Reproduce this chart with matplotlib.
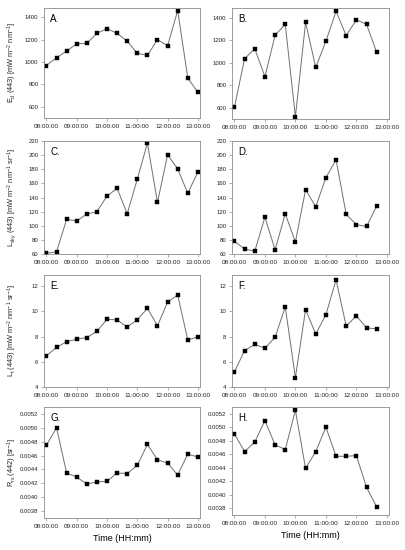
import matplotlib
matplotlib.use("Agg")
import matplotlib.pyplot as plt
from matplotlib.ticker import MultipleLocator

plt.rcParams['font.family'] = ['Liberation Sans', 'DejaVu Sans']
plt.rcParams['mathtext.fontset'] = 'custom'
plt.rcParams['mathtext.rm'] = 'Liberation Sans'
plt.rcParams['mathtext.it'] = 'Liberation Sans:italic'

times_left = ["08:00", "08:20", "08:40", "09:00", "09:20", "09:40", "10:00", "10:20",
              "10:40", "11:00", "11:20", "11:40", "12:00", "12:20", "12:40", "13:00"]
times_right = times_left[:15]

Ed_A = [970, 1040, 1100, 1165, 1168, 1258, 1300, 1258, 1187, 1080, 1060, 1202, 1146, 1462, 858, 730]
Ed_B = [605, 1035, 1124, 875, 1243, 1340, 520, 1358, 958, 1190, 1455, 1240, 1380, 1340, 1092]
Lsky_C = [61, 63, 109, 107, 116.5, 120, 142, 153, 117, 166, 217, 133, 200.5, 180.5, 146, 176]
Lsky_D = [78, 67, 64, 112, 66, 117, 77, 151, 127, 168, 193.5, 116, 101.5, 99, 128]
Lt_E = [6.48, 7.15, 7.6, 7.8, 7.93, 8.43, 9.38, 9.33, 8.77, 9.35, 10.25, 8.87, 10.75, 11.3, 7.75, 7.98]
Lt_F = [5.2, 6.9, 7.38, 7.09, 7.95, 10.36, 4.75, 10.15, 8.21, 9.74, 12.52, 8.83, 9.66, 8.7, 8.62]
Rrs_G = [0.00475, 0.00500, 0.00435, 0.00429, 0.00419, 0.00422, 0.00423, 0.00435, 0.00434,
         0.00446, 0.00476, 0.00454, 0.00449, 0.00432, 0.00462, 0.00458]
Rrs_H = [0.00490, 0.00464, 0.00478, 0.00510, 0.00474, 0.00467, 0.00525, 0.00439, 0.00464,
         0.00500, 0.00457, 0.00457, 0.00458, 0.00411, 0.00382]

xtick_hours = [8, 9, 10, 11, 12, 13]
xtick_labels = ["08:00:00", "09:00:00", "10:00:00", "11:00:00", "12:00:00", "13:00:00"]

panel_letters = ["A.", "B.", "C.", "D.", "E.", "F.", "G.", "H."]
ylabels = [r"E$_\mathrm{d}$ (443) [mW m$^{-2}$ nm$^{-1}$]",
           r"L$_\mathrm{sky}$ (443) [mW m$^{-2}$ nm$^{-1}$ sr$^{-1}$]",
           r"L$_\mathrm{t}$ (443) [mW m$^{-2}$ nm$^{-1}$ sr$^{-1}$]",
           r"R$_\mathrm{rs}$ (442) [sr$^{-1}$]"]
xlabel = "Time (HH:mm)"


def to_hours(ts):
    return [int(t[:2]) + int(t[3:]) / 60 for t in ts]


W, H = 405, 550
fig = plt.figure(figsize=(W / 100, H / 100), dpi=100)

# pixel boxes: (left, top, right, bottom)
boxes = [
    (44, 8, 200, 118), (232, 8, 389, 119),
    (44, 141, 200, 254), (232, 141, 389, 254),
    (44, 275, 200, 387), (232, 275, 389, 387),
    (44, 407, 200, 518), (232, 407, 389, 515),
]
series = [Ed_A, Ed_B, Lsky_C, Lsky_D, Lt_E, Lt_F, Rrs_G, Rrs_H]
ylims = [(500, 1485), (500, 1485), (60, 220), (60, 220), (4, 12.9), (4, 12.9),
         (0.0037, 0.0053), (0.0037, 0.0053)]
ysteps = [200, 200, 20, 20, 2, 2, 0.0002, 0.0002]
yfmt = [lambda v: f"{v:.0f}"] * 6 + [lambda v: f"{v:.4f}"] * 2

frame_col = "#8c8c8c"
line_col = "#707070"

for i, (box, vals) in enumerate(zip(boxes, series)):
    l, t, r, b = box
    ax = fig.add_axes([l / W, 1 - b / H, (r - l) / W, (b - t) / H])
    ts = times_left if i % 2 == 0 else times_right
    x = to_hours(ts)
    ax.plot(x, vals, color=line_col, lw=0.7, marker='s', markersize=3.2,
            markerfacecolor='black', markeredgecolor='black', markeredgewidth=0.3)
    ax.set_xlim(7.92, 13.07)
    ax.set_ylim(*ylims[i])
    ax.set_xticks(xtick_hours)
    ax.set_xticklabels(xtick_labels)
    ax.yaxis.set_major_locator(MultipleLocator(ysteps[i]))
    f = yfmt[i]
    ax.yaxis.set_major_formatter(plt.FuncFormatter(lambda v, p, f=f: f(v)))
    ax.tick_params(axis='x', labelsize=4.6, length=2, width=0.5, color=frame_col,
                   pad=2, labelcolor='#222222')
    ax.tick_params(axis='y', labelsize=4.3, length=2, width=0.5, color=frame_col,
                   pad=2, labelcolor='#222222')
    for s in ax.spines.values():
        s.set_color(frame_col)
        s.set_linewidth(0.6)
    ax.text(0.04, 0.9, panel_letters[i], transform=ax.transAxes, fontsize=7,
            va='center', ha='left')
    if i % 2 == 0:
        fig.text(12 / W, 1 - ((t + b) / 2) / H, ylabels[i // 2], fontsize=5.3,
                 rotation=90, ha='center', va='center', color='#222222')
    if i >= 6:
        ax.set_xlabel(xlabel, fontsize=6.5, labelpad=4)

fig.savefig("out.png", dpi=100)
